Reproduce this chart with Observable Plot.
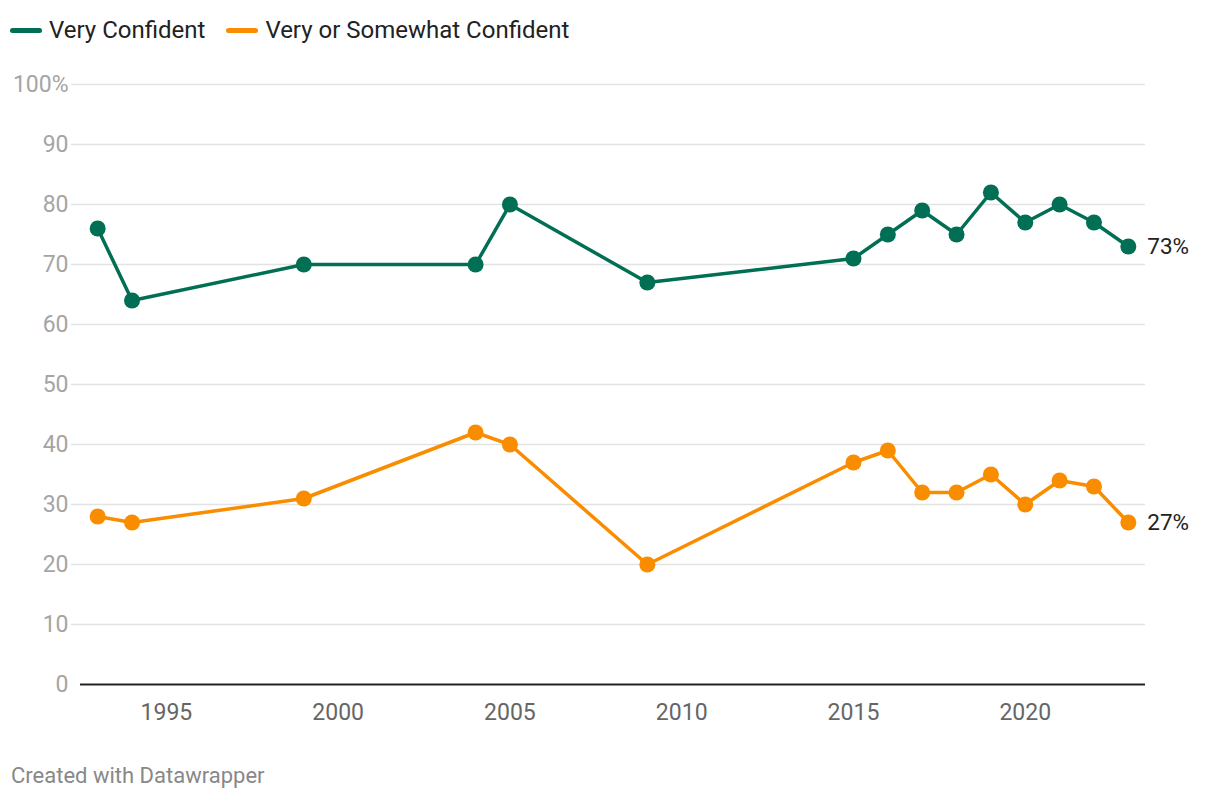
<!DOCTYPE html>
<html>
<head>
<meta charset="utf-8">
<script src="https://cdn.jsdelivr.net/npm/d3@7"></script>
<script src="https://cdn.jsdelivr.net/npm/@observablehq/plot@0.6"></script>
<style>
  body { margin: 0; background: #fff; font-family: Roboto, "Noto Sans", sans-serif; width: 1220px; height: 800px; overflow: hidden; }
  #legend { position: absolute; left: 10px; top: 15px; display: flex; gap: 21px; font-size: 24px; line-height: 30px; color: #222; }
  #legend .item { display: flex; align-items: center; }
  #legend .sw { width: 32px; height: 5px; border-radius: 2.5px; margin-right: 7px; }
  #chart { position: absolute; left: 0; top: 60px; }
  #caption { position: absolute; left: 11px; top: 763px; font-size: 22px; color: #888; }
</style>
</head>
<body>
<div id="legend"></div>
<div id="chart"></div>
<div id="caption">Created with Datawrapper</div>
<script>
const years = [1993, 1994, 1999, 2004, 2005, 2009, 2015, 2016, 2017, 2018, 2019, 2020, 2021, 2022, 2023];
const veryConfident = [76, 64, 70, 70, 80, 67, 71, 75, 79, 75, 82, 77, 80, 77, 73];
const veryOrSomewhat = [28, 27, 31, 42, 40, 20, 37, 39, 32, 32, 35, 30, 34, 33, 27];
const seriesNames = ["Very Confident", "Very or Somewhat Confident"];
const seriesColors = ["#006f53", "#fa8c00"];
const xTicks = [1995, 2000, 2005, 2010, 2015, 2020];
const yTicks = [0, 10, 20, 30, 40, 50, 60, 70, 80, 90, 100];

const data = [];
years.forEach((y, i) => {
  data.push({year: y, value: veryConfident[i], series: seriesNames[0]});
  data.push({year: y, value: veryOrSomewhat[i], series: seriesNames[1]});
});
const last = data.filter(d => d.year === years[years.length - 1]);

const legend = document.getElementById("legend");
seriesNames.forEach((n, i) => {
  const it = document.createElement("div");
  it.className = "item";
  it.innerHTML = `<span class="sw" style="background:${seriesColors[i]}"></span><span>${n}</span>`;
  legend.appendChild(it);
});

const chart = Plot.plot({
  width: 1220,
  height: 680,
  marginLeft: 80,
  marginRight: 75,
  marginTop: 24,
  marginBottom: 56,
  style: {fontFamily: "Roboto, sans-serif", fontSize: "24px", background: "#fff"},
  x: {domain: [1992.5, 2023.5]},
  y: {domain: [0, 100]},
  color: {domain: seriesNames, range: seriesColors},
  marks: [
    Plot.gridY(yTicks.filter(d => d > 0), {stroke: "#e3e3e3", strokeOpacity: 1, strokeWidth: 1.5, x1: 1992.24, x2: 1993.5 + 30}),
    Plot.ruleY([0], {stroke: "#222", strokeWidth: 2}),
    Plot.axisY({ticks: yTicks, tickFormat: d => d === 100 ? "100%" : String(d), tickSize: 0, tickPadding: 12, fill: "#a5a5a5", fontSize: 23, label: null}),
    Plot.axisX({ticks: xTicks, tickFormat: d => String(d), tickSize: 0, tickPadding: 19, fill: "#666", fontSize: 23, label: null}),
    Plot.line(data, {x: "year", y: "value", z: "series", stroke: "series", strokeWidth: 3.5}),
    Plot.dot(data, {x: "year", y: "value", fill: "series", r: 8}),
    Plot.text(last, {x: "year", y: "value", text: d => d.value + "%", dx: 19, textAnchor: "start", fill: "#222", fontSize: 22.5})
  ]
});
document.getElementById("chart").appendChild(chart);
</script>
</body>
</html>
